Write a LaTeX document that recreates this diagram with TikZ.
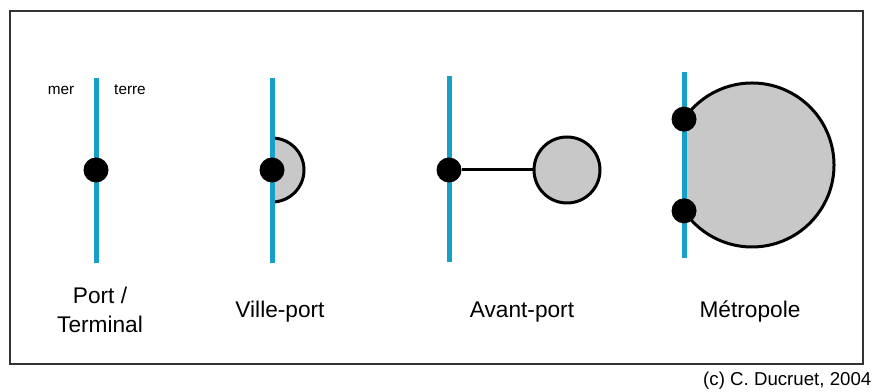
\documentclass[tikz,border=0pt]{standalone}
\usepackage{fontspec}
\setmainfont{Liberation Sans}
\usetikzlibrary{positioning,calc}
\definecolor{seablue}{RGB}{22,160,200}
\definecolor{cityfill}{RGB}{200,200,200}

\begin{document}
\begin{tikzpicture}[x=0.75pt,y=0.75pt,
    coast/.style={draw=seablue,line width=3.75pt},
    portdot/.style={circle,fill=black,inner sep=0pt,minimum size=18.75pt},
    city/.style={circle,draw=black,fill=cityfill,line width=2.25pt,inner sep=0pt},
    typename/.style={font=\fontsize{17}{21.75}\selectfont,align=center},
    side/.style={font=\fontsize{11.5}{13}\selectfont}
]
\useasboundingbox (0,0) rectangle (877,392);
\draw[black!80,line width=1.5pt] (10,28) rectangle (863,381);

% port / terminal
\coordinate (ptTop) at (96,314);
\coordinate (ptBot) at (96,129);
\draw[coast] (ptTop) -- (ptBot);
\node[portdot] (ptDot) at (96,222) {};
\node[side] (mer)   at (61,302)  {mer};
\node[side] (terre) at (130,302) {terre};
\node[typename] (ptName) at (100,82) {Port /\\Terminal};

% ville-port
\coordinate (vpTop) at (272,314);
\coordinate (vpBot) at (272,129);
\fill[cityfill] (272,254) arc (90:-90:32) -- cycle;
\draw[line width=2.25pt] (272,254) arc (90:-90:32);
\draw[coast] (vpTop) -- (vpBot);
\node[portdot] (vpDot) at (272,222) {};
\node[typename] (vpName) at (280,80) {Ville-port};

% avant-port
\coordinate (apTop) at (449,316);
\coordinate (apBot) at (449,130);
\draw[coast] (apTop) -- (apBot);
\node[city,minimum size=49.5pt] (apCity) at (567,222) {};
\node[portdot] (apDot) at (449,222) {};
\draw[line width=2.25pt] (apDot) -- (apCity);
\node[typename] (apName) at (522,80) {Avant-port};

% metropole
\coordinate (mtC) at (752,227);
\coordinate (mtTop) at (684,320);
\coordinate (mtBot) at (684,134);
\begin{scope}
  \clip (684,120) rectangle (850,330);
  \fill[cityfill] (mtC) circle (82);
\end{scope}
\draw[line width=2.25pt] ($(mtC)+(146:82)$) arc (146:-146:82);
\draw[coast] (mtTop) -- (mtBot);
\node[portdot] (mtDotN) at ($(mtC)+(146:82)$) {};
\node[portdot] (mtDotS) at ($(mtC)+(-146:82)$) {};
\node[typename] (mtName) at (750,80) {Métropole};

\node[anchor=east,font=\fontsize{14}{16}\selectfont] (credit) at (876,11) {(c) C. Ducruet, 2004};
\end{tikzpicture}
\end{document}
